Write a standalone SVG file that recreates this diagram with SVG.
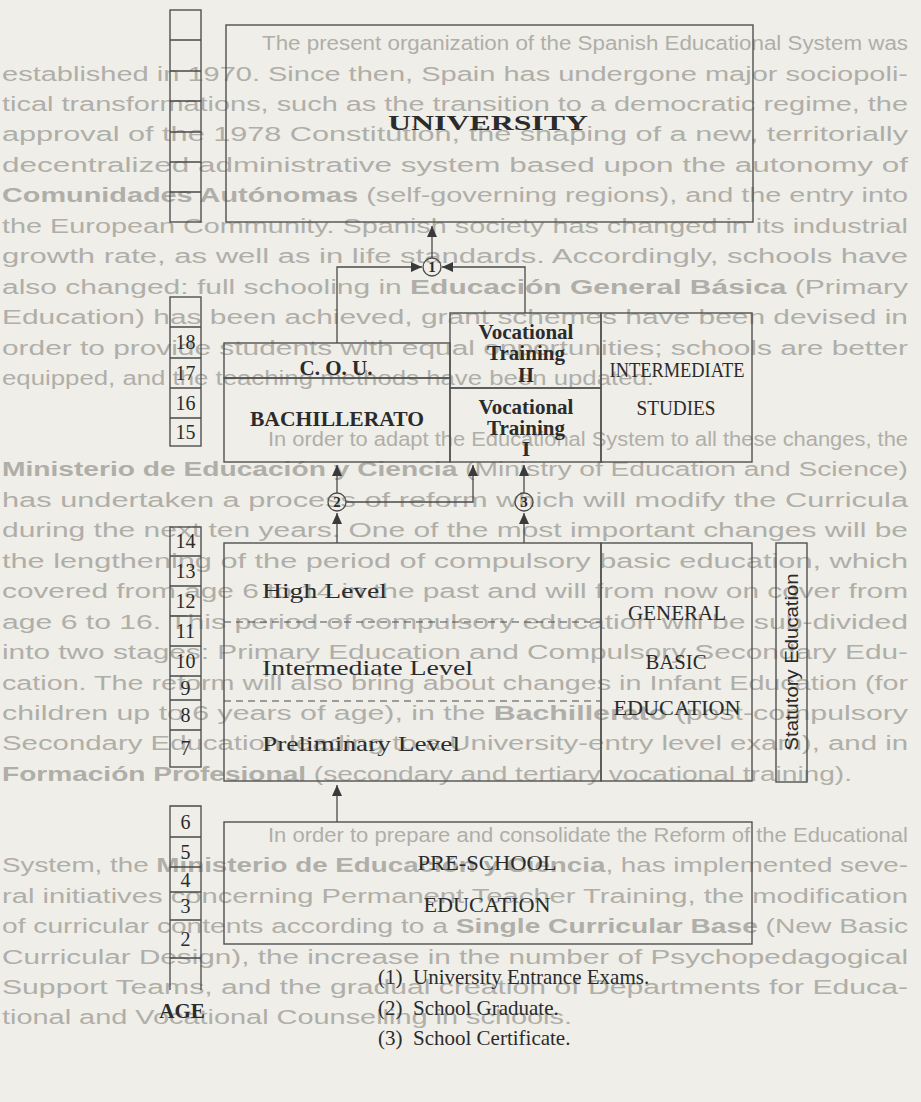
<svg xmlns="http://www.w3.org/2000/svg" width="921" height="1102" viewBox="0 0 921 1102">
<defs>
<marker id="ah" markerUnits="userSpaceOnUse" markerWidth="11" markerHeight="10" refX="11" refY="5" orient="auto">
<path d="M0,0 L11,5 L0,10 z" fill="#3a3a3a"/>
</marker>
<style>
.bg{font-family:"Liberation Sans",Arial,sans-serif;font-size:20px;fill:#afaea8}
.bx{fill:none;stroke:#505050;stroke-width:1.4}
.ln{fill:none;stroke:#4a4a4a;stroke-width:1.3}
.dash{fill:none;stroke:#4a4a4a;stroke-width:1.2;stroke-dasharray:7 5}
.t{font-family:"Liberation Serif","Times New Roman",serif;fill:#2b2b2b;font-size:21px}
.tb{font-family:"Liberation Serif","Times New Roman",serif;fill:#2b2b2b;font-weight:bold;font-size:21px}
.n{font-family:"Liberation Serif","Times New Roman",serif;fill:#2b2b2b;font-size:20px;text-anchor:middle}
.c{font-family:"Liberation Serif","Times New Roman",serif;fill:#2b2b2b;font-size:15px;font-weight:bold;text-anchor:middle}
.m{text-anchor:middle}
</style>
</defs>
<rect x="0" y="0" width="921" height="1102" fill="#efeee9"/>

<g id="background-text" class="bg">
<text x="262" y="50" textLength="646" lengthAdjust="spacingAndGlyphs">The present organization of the Spanish Educational System was</text>
<text x="2" y="80.5" textLength="906" lengthAdjust="spacingAndGlyphs">established in 1970. Since then, Spain has undergone major sociopoli-</text>
<text x="2" y="111" textLength="906" lengthAdjust="spacingAndGlyphs">tical transformations, such as the transition to a democratic regime, the</text>
<text x="2" y="141.4" textLength="906" lengthAdjust="spacingAndGlyphs">approval of the 1978 Constitution, the shaping of a new, territorially</text>
<text x="2" y="171.8" textLength="906" lengthAdjust="spacingAndGlyphs">decentralized administrative system based upon the autonomy of</text>
<text x="2" y="202.3" textLength="906" lengthAdjust="spacingAndGlyphs"><tspan font-weight="bold">Comunidades Autónomas</tspan> (self-governing regions), and the entry into</text>
<text x="2" y="232.7" textLength="906" lengthAdjust="spacingAndGlyphs">the European Community. Spanish society has changed in its industrial</text>
<text x="2" y="263.2" textLength="906" lengthAdjust="spacingAndGlyphs">growth rate, as well as in life standards. Accordingly, schools have</text>
<text x="2" y="293.6" textLength="906" lengthAdjust="spacingAndGlyphs">also changed: full schooling in <tspan font-weight="bold">Educación General Básica</tspan> (Primary</text>
<text x="2" y="324.1" textLength="906" lengthAdjust="spacingAndGlyphs">Education) has been achieved, grant schemes have been devised in</text>
<text x="2" y="354.5" textLength="906" lengthAdjust="spacingAndGlyphs">order to provide students with equal opportunities; schools are better</text>
<text x="2" y="385" textLength="652" lengthAdjust="spacingAndGlyphs">equipped, and the teaching methods have been updated.</text>
<text x="268" y="445.9" textLength="640" lengthAdjust="spacingAndGlyphs">In order to adapt the Educational System to all these changes, the</text>
<text x="2" y="476.3" textLength="906" lengthAdjust="spacingAndGlyphs"><tspan font-weight="bold">Ministerio de Educación y Ciencia</tspan> (Ministry of Education and Science)</text>
<text x="2" y="506.8" textLength="906" lengthAdjust="spacingAndGlyphs">has undertaken a process of reform which will modify the Curricula</text>
<text x="2" y="537.2" textLength="906" lengthAdjust="spacingAndGlyphs">during the next ten years. One of the most important changes will be</text>
<text x="2" y="567.7" textLength="906" lengthAdjust="spacingAndGlyphs">the lengthening of the period of compulsory basic education, which</text>
<text x="2" y="598.1" textLength="906" lengthAdjust="spacingAndGlyphs">covered from age 6 to 14 in the past and will from now on cover from</text>
<text x="2" y="628.6" textLength="906" lengthAdjust="spacingAndGlyphs">age 6 to 16. This period of compulsory education will be sub-divided</text>
<text x="2" y="659" textLength="906" lengthAdjust="spacingAndGlyphs">into two stages: Primary Education and Compulsory Secondary Edu-</text>
<text x="2" y="689.5" textLength="906" lengthAdjust="spacingAndGlyphs">cation. The reform will also bring about changes in Infant Education (for</text>
<text x="2" y="719.9" textLength="906" lengthAdjust="spacingAndGlyphs">children up to 6 years of age), in the <tspan font-weight="bold">Bachillerato</tspan> (post-compulsory</text>
<text x="2" y="750.4" textLength="906" lengthAdjust="spacingAndGlyphs">Secondary Education leading to a University-entry level exam), and in</text>
<text x="2" y="780.8" textLength="850" lengthAdjust="spacingAndGlyphs"><tspan font-weight="bold">Formación Profesional</tspan> (secondary and tertiary vocational training).</text>
<text x="268" y="841.7" textLength="640" lengthAdjust="spacingAndGlyphs">In order to prepare and consolidate the Reform of the Educational</text>
<text x="2" y="872.2" textLength="906" lengthAdjust="spacingAndGlyphs">System, the <tspan font-weight="bold">Ministerio de Educación y Ciencia</tspan>, has implemented seve-</text>
<text x="2" y="902.6" textLength="906" lengthAdjust="spacingAndGlyphs">ral initiatives concerning Permanent Teacher Training, the modification</text>
<text x="2" y="933.1" textLength="906" lengthAdjust="spacingAndGlyphs">of curricular contents according to a <tspan font-weight="bold">Single Curricular Base</tspan> (New Basic</text>
<text x="2" y="963.5" textLength="906" lengthAdjust="spacingAndGlyphs">Curricular Design), the increase in the number of Psychopedagogical</text>
<text x="2" y="994" textLength="906" lengthAdjust="spacingAndGlyphs">Support Teams, and the gradual creation of Departments for Educa-</text>
<text x="2" y="1024.4" textLength="570" lengthAdjust="spacingAndGlyphs">tional and Vocational Counselling in schools.</text>
</g>

<g id="age-column-top">
<rect class="bx" x="170" y="10" width="31" height="212"/>
<path class="ln" d="M170 40H201M170 71H201M170 101H201M170 132H201M170 162H201M170 192H201"/>
</g>
<g id="age-column-15-18">
<rect class="bx" x="170" y="297" width="31" height="149"/>
<path class="ln" d="M170 327H201M170 358H201M170 388H201M170 418H201"/>
<text class="n" x="185.5" y="349">18</text>
<text class="n" x="185.5" y="380">17</text>
<text class="n" x="185.5" y="410">16</text>
<text class="n" x="185.5" y="439">15</text>
</g>
<g id="age-column-7-14">
<rect class="bx" x="170" y="527" width="31" height="240"/>
<path class="ln" d="M170 556H201M170 586H201M170 616H201M170 646H201M170 676H201M170 700H201M170 730H201"/>
<text class="n" x="185.5" y="548">14</text>
<text class="n" x="185.5" y="578">13</text>
<text class="n" x="185.5" y="608">12</text>
<text class="n" x="185.5" y="638">11</text>
<text class="n" x="185.5" y="668">10</text>
<text class="n" x="185.5" y="695">9</text>
<text class="n" x="185.5" y="722">8</text>
<text class="n" x="185.5" y="755">7</text>
</g>
<g id="age-column-2-6">
<path class="ln" d="M170 990V806H201V990M170 837H201M170 867H201M170 892H201M170 920H201M170 958H201"/>
<text class="n" x="185.5" y="829">6</text>
<text class="n" x="185.5" y="859">5</text>
<text class="n" x="185.5" y="887">4</text>
<text class="n" x="185.5" y="913">3</text>
<text class="n" x="185.5" y="946">2</text>
</g>
<g id="age-label"><text class="tb m" x="182" y="1018">AGE</text></g>

<g id="university">
<rect class="bx" x="226" y="25" width="527" height="197"/>
<text class="tb m" x="488" y="130" font-size="32" textLength="200" lengthAdjust="spacingAndGlyphs">UNIVERSITY</text>
</g>
<g id="cou">
<rect class="bx" x="224" y="343" width="226" height="35"/>
<text class="tb m" x="336" y="375">C. O. U.</text>
</g>
<g id="bachillerato">
<rect class="bx" x="224" y="378" width="226" height="84"/>
<text class="tb m" x="337" y="426" textLength="174" lengthAdjust="spacingAndGlyphs">BACHILLERATO</text>
</g>
<g id="vocational-training-2">
<rect class="bx" x="450" y="313" width="151" height="75"/>
<text class="tb m" x="526" y="339" font-size="20">Vocational</text>
<text class="tb m" x="526" y="360" font-size="20">Training</text>
<text class="tb m" x="526" y="382" font-size="20">II</text>
</g>
<g id="vocational-training-1">
<rect class="bx" x="450" y="388" width="151" height="74"/>
<text class="tb m" x="526" y="414" font-size="20">Vocational</text>
<text class="tb m" x="526" y="435" font-size="20">Training</text>
<text class="tb m" x="526" y="456" font-size="20">I</text>
</g>
<g id="intermediate-studies">
<rect class="bx" x="601" y="313" width="151" height="149"/>
<text class="t m" x="677" y="377" textLength="135" lengthAdjust="spacingAndGlyphs">INTERMEDIATE</text>
<text class="t m" x="676" y="415" textLength="79" lengthAdjust="spacingAndGlyphs">STUDIES</text>
</g>
<g id="basic-levels">
<rect class="bx" x="224" y="543" width="377" height="238"/>
<line class="dash" x1="224" y1="622" x2="601" y2="622"/>
<line class="dash" x1="224" y1="701" x2="601" y2="701"/>
<text class="t" x="262" y="598" font-size="24" textLength="125" lengthAdjust="spacingAndGlyphs">High Level</text>
<text class="t" x="262" y="675" font-size="24" textLength="211" lengthAdjust="spacingAndGlyphs">Intermediate Level</text>
<text class="t" x="262" y="751" font-size="24" textLength="198" lengthAdjust="spacingAndGlyphs">Preliminary Level</text>
</g>
<g id="general-basic-education">
<rect class="bx" x="601" y="543" width="151" height="238"/>
<text class="t m" x="677" y="620" textLength="98" lengthAdjust="spacingAndGlyphs">GENERAL</text>
<text class="t m" x="676" y="669" textLength="61" lengthAdjust="spacingAndGlyphs">BASIC</text>
<text class="t m" x="677" y="715" textLength="127" lengthAdjust="spacingAndGlyphs">EDUCATION</text>
</g>
<g id="statutory-education">
<rect class="bx" x="776" y="543" width="31" height="239"/>
<text transform="translate(798 662) rotate(-90)" text-anchor="middle" font-family="Liberation Sans, Arial, sans-serif" font-size="19" fill="#2b2b2b" textLength="177" lengthAdjust="spacingAndGlyphs">Statutory Education</text>
</g>
<g id="pre-school">
<rect class="bx" x="224" y="822" width="528" height="122"/>
<text class="t m" x="487" y="870" textLength="139" lengthAdjust="spacingAndGlyphs">PRE-SCHOOL</text>
<text class="t m" x="487" y="912" textLength="127" lengthAdjust="spacingAndGlyphs">EDUCATION</text>
</g>
<g id="mark-1">
<circle class="ln" cx="432" cy="267" r="9"/>
<text class="c" x="432" y="272">1</text>
</g>
<g id="mark-2">
<circle class="ln" cx="337" cy="502" r="9"/>
<text class="c" x="337" y="507">2</text>
</g>
<g id="mark-3">
<circle class="ln" cx="524" cy="502" r="9"/>
<text class="c" x="524" y="507">3</text>
</g>

<g id="connectors" class="ln">
<path d="M432 258V226" marker-end="url(#ah)"/>
<path d="M337 343V267H422" marker-end="url(#ah)"/>
<path d="M525 313V267H442" marker-end="url(#ah)"/>
<path d="M337 493V465" marker-end="url(#ah)"/>
<path d="M346 502H473V465" marker-end="url(#ah)"/>
<path d="M524 493V465" marker-end="url(#ah)"/>
<path d="M337 543V513" marker-end="url(#ah)"/>
<path d="M524 543V513" marker-end="url(#ah)"/>
<path d="M337 822V785" marker-end="url(#ah)"/>
</g>

<g id="legend" class="t" font-size="18">
<text x="378" y="984" xml:space="preserve">(1)  University Entrance Exams.</text>
<text x="378" y="1015" xml:space="preserve">(2)  School Graduate.</text>
<text x="378" y="1045" xml:space="preserve">(3)  School Certificate.</text>
</g>
</svg>
